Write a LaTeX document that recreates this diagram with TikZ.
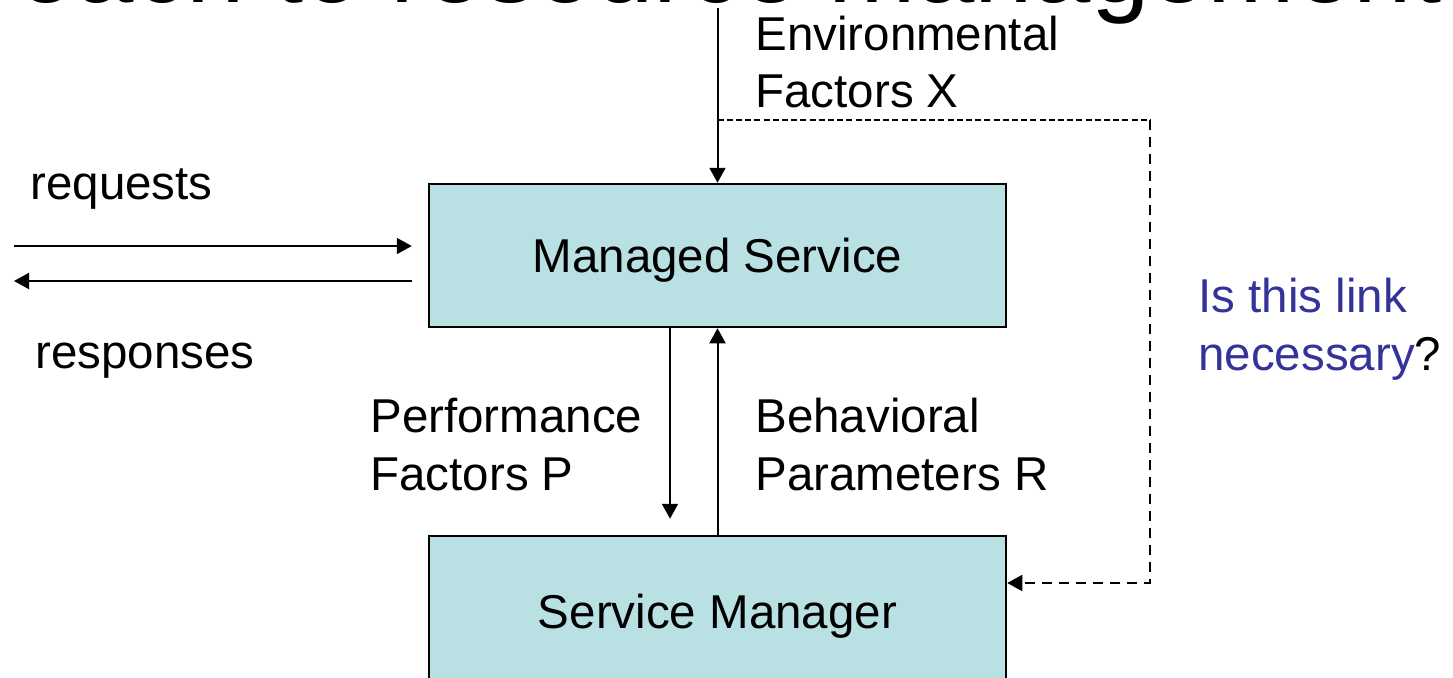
\documentclass[tikz,border=0pt]{standalone}
\usepackage{fontspec}
\setmainfont{Liberation Sans}
\usetikzlibrary{arrows.meta}
\definecolor{boxfill}{RGB}{185,224,227}
\definecolor{noteblue}{RGB}{51,51,153}
\newcommand\diagfont{\fontsize{23.75}{28.5}\selectfont}
\newcommand\headfont{\fontsize{52.5}{63}\selectfont}
\begin{document}
\begin{tikzpicture}[x=0.5pt,y=-0.5pt,
  box/.style={draw=black, line width=1.25pt, fill=boxfill, inner sep=0pt,
    minimum width=288.5pt, text depth=0pt, font=\diagfont},
  lbl/.style={anchor=base west, inner sep=0pt, font=\diagfont},
  tipstyle/.style={-{Triangle[length=7.5pt,width=8pt]}},
  arr/.style={line width=1pt, tipstyle},
  dthin/.style={line width=0.75pt, dash pattern=on 3pt off 1.6pt},
  dthick/.style={line width=1pt, dash pattern=on 5pt off 3.5pt}]
  \useasboundingbox (0,0) rectangle (1453,677);
  \clip (0,0) rectangle (1453,677);

  % slide heading, cut by the top edge
  \node[anchor=base west, inner sep=0pt, font=\headfont] (title) at (-193,2)
    {approach to resource management};

  % the two blocks
  \node[box, minimum height=71.5pt] (ms) at (717.5,255.5) {Managed Service};
  \node[box, minimum height=75pt] (sm) at (717.5,611) {Service Manager};

  % helper points
  \coordinate (envTop) at (717.5,8);
  \coordinate (reqL) at (14,246);
  \coordinate (respL) at (14,281);
  \coordinate (pfX) at (670,0);
  \coordinate (tap) at (717.5,120);
  \coordinate (cornerTR) at (1150,120);
  \coordinate (cornerBR) at (1150,583);

  % connectors
  \draw[arr] (envTop) -- (ms.north);
  \draw[arr, shorten >=8pt] (reqL) -- (reqL -| ms.west);
  \draw[arr, shorten <=8pt] (respL -| ms.west) -- (respL);
  \draw[arr, shorten >=8pt] (pfX |- ms.south) -- (pfX |- sm.north);
  \draw[arr] (sm.north) -- (ms.south);
  \draw[dthin] (tap) -- (cornerTR);
  \draw[dthick, tipstyle] (cornerTR) -- (cornerBR) -- (cornerBR -| sm.east);

  % labels
  \node[lbl] (envA) at (755,50) {Environmental};
  \node[lbl] (envB) at (755,107) {Factors X};
  \node[lbl] (req) at (30,199) {requests};
  \node[lbl] (resp) at (35,368) {responses};
  \node[lbl] (perfA) at (370,432) {Performance};
  \node[lbl] (perfB) at (370,490) {Factors P};
  \node[lbl] (behA) at (755,432) {Behavioral};
  \node[lbl] (behB) at (755,490) {Parameters R};
  \node[lbl, text=noteblue] (noteA) at (1198,312) {Is this link};
  \node[lbl] (noteB) at (1198,370) {\textcolor{noteblue}{necessary}?};
\end{tikzpicture}
\end{document}
